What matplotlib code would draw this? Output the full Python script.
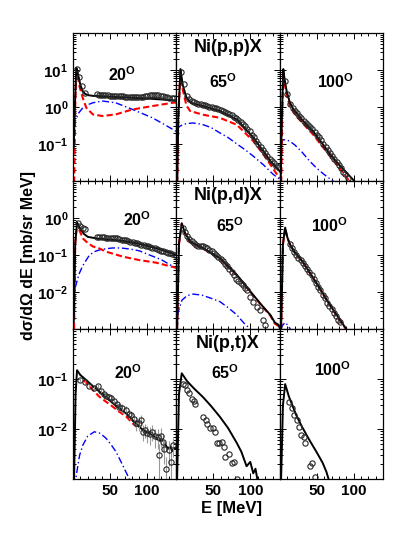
import numpy as np
import matplotlib
matplotlib.use('Agg')
import matplotlib.pyplot as plt
from matplotlib.ticker import LogLocator, FixedLocator, MultipleLocator, FuncFormatter

plt.rcParams['font.family'] = ['Liberation Sans', 'DejaVu Sans']
plt.rcParams['font.weight'] = 'bold'
plt.rcParams['mathtext.fontset'] = 'custom'
plt.rcParams['mathtext.rm'] = 'Liberation Sans:bold'
plt.rcParams['mathtext.bf'] = 'Liberation Sans:bold'
plt.rcParams['mathtext.it'] = 'Liberation Sans:bold:italic'

# ---- Ni(p,p)X ----
pp20_exp_e = [5, 8, 12, 16, 32, 35, 38, 41, 44, 47, 50, 53, 56, 59, 62, 65, 68, 71, 74, 77,
              80, 83, 86, 89, 92, 95, 98, 101, 104, 107, 110, 113, 116, 119, 122, 125, 128, 131, 134, 137]
pp20_exp = [10.4, 6.5, 3.6, 2.4, 2.2, 2.15, 2.1, 2.1, 2.05, 2.05, 2.0, 2.0, 2.0, 1.98, 1.95, 1.95, 1.93, 1.92, 1.9, 1.9,
            1.9, 1.88, 1.88, 1.9, 1.9, 1.92, 1.95, 2.0, 2.05, 2.1, 2.1, 2.08, 2.05, 2.0, 1.95, 1.9, 1.85, 1.8, 1.75, 1.7]
pp20_tot_e = [1, 2.5, 4.5, 6, 8, 10, 13, 16, 20, 27, 40, 60, 80, 100, 120, 140]
pp20_tot = [0.08, 1.0, 11.5, 9, 6, 4, 2.7, 2.3, 2.1, 2.0, 1.95, 1.85, 1.78, 1.7, 1.6, 1.5]
pp20_red_e = [1.5, 3, 4.5, 6, 9, 13.5, 18, 27, 40, 58, 81, 108, 135, 140]
pp20_red = [0.005, 1, 11, 8, 3.5, 1.7, 0.96, 0.63, 0.57, 0.63, 0.86, 1.06, 1.3, 1.32]
pp20_blue_e = [1, 3, 8, 13.5, 20, 27, 40, 58, 81, 108, 125, 140]
pp20_blue = [0.3, 0.42, 0.7, 0.96, 1.15, 1.3, 1.45, 1.3, 0.86, 0.51, 0.33, 0.22]

pp65_exp_e = [7, 11, 15, 18, 21, 24, 27, 30, 33, 36, 39, 42, 45, 48, 51, 54, 57, 60, 63, 66, 69, 72,
              75, 78, 81, 84, 87, 90, 93, 96, 99, 102, 105, 108, 111, 114, 117, 120, 123, 126, 129, 132, 135, 138]
pp65_exp = [9.0, 4.3, 2.0, 1.6, 1.45, 1.35, 1.28, 1.22, 1.18, 1.14, 1.1, 1.06, 1.02, 0.98, 0.95, 0.92, 0.88, 0.84,
            0.8, 0.75, 0.7, 0.65, 0.6, 0.55, 0.5, 0.45, 0.4, 0.35, 0.3, 0.26, 0.22, 0.18, 0.15, 0.12, 0.1, 0.085,
            0.07, 0.058, 0.048, 0.04, 0.034, 0.03, 0.026, 0.024]
pp65_tot_e = [1.5, 3, 6, 9, 14, 20, 36, 59, 82, 104, 127, 138, 140]
pp65_tot = [0.005, 0.5, 10.6, 4, 1.8, 1.3, 1.06, 0.78, 0.46, 0.15, 0.035, 0.02, 0.018]
pp65_red_e = [1.5, 3, 6, 9, 14, 19, 36, 59, 82, 104, 120, 136, 140]
pp65_red = [0.005, 0.4, 10, 3, 1.1, 0.78, 0.62, 0.51, 0.33, 0.12, 0.045, 0.015, 0.012]
pp65_blue_e = [1, 5, 10, 16, 23, 35, 47, 59, 70, 82, 93, 104, 118, 131, 140]
pp65_blue = [0.25, 0.3, 0.34, 0.36, 0.37, 0.34, 0.28, 0.2, 0.15, 0.1, 0.07, 0.047, 0.027, 0.015, 0.011]

pp100_exp_e = [6.5, 10, 14, 17, 20, 23, 26, 29, 32, 35, 38, 41, 44, 47, 50, 53, 56, 59, 62, 65,
               68, 71, 74, 77, 80, 83, 86, 89, 92]
pp100_exp = [5.0, 2.3, 1.2, 0.95, 0.8, 0.68, 0.58, 0.5, 0.42, 0.36, 0.32, 0.28, 0.25, 0.21, 0.18, 0.15,
             0.125, 0.1, 0.085, 0.07, 0.058, 0.048, 0.04, 0.033, 0.027, 0.022, 0.018, 0.015, 0.012]
pp100_tot_e = [1, 2.5, 4.5, 6, 9, 13, 18, 30, 45, 58, 68, 80, 90, 101]
pp100_tot = [0.01, 0.5, 10.6, 6, 2.7, 1.4, 0.88, 0.45, 0.22, 0.1, 0.053, 0.028, 0.017, 0.01]
pp100_red_e = [1.5, 3, 4.5, 7, 10, 14, 20, 30, 45, 60, 75, 90, 98]
pp100_red = [0.005, 0.5, 9, 3.5, 1.8, 1.0, 0.65, 0.38, 0.18, 0.075, 0.032, 0.013, 0.008]
pp100_blue_e = [1, 4, 8, 13, 20, 30, 40, 50, 60, 72, 80]
pp100_blue = [0.1, 0.13, 0.13, 0.12, 0.095, 0.06, 0.035, 0.022, 0.015, 0.01, 0.007]

# ---- Ni(p,d)X ----
pd20_exp_e = [7, 10, 13, 16, 33, 36, 39, 42, 45, 48, 51, 54, 57, 60, 63, 66, 69, 72, 75, 78,
              81, 84, 87, 90, 93, 96, 99, 102, 105, 108, 111, 114, 117, 120, 123, 126, 129, 132, 135, 138]
pd20_exp = [0.72, 0.62, 0.55, 0.5, 0.31, 0.31, 0.3, 0.3, 0.29, 0.29, 0.29, 0.28, 0.28, 0.28, 0.27, 0.26,
            0.25, 0.25, 0.24, 0.23, 0.22, 0.21, 0.21, 0.2, 0.19, 0.185, 0.18, 0.17, 0.165, 0.155, 0.15,
            0.145, 0.14, 0.13, 0.125, 0.12, 0.115, 0.11, 0.105, 0.1]
pd20_tot_e = [1, 3, 5.5, 8, 11, 15, 20, 32, 50, 68, 85, 104, 120, 135, 140]
pd20_tot = [0.0016, 0.2, 0.76, 0.6, 0.47, 0.37, 0.31, 0.28, 0.26, 0.24, 0.21, 0.17, 0.14, 0.11, 0.1]
pd20_red_e = [1.5, 3, 5.5, 9, 13.5, 18, 27, 36, 45, 68, 90, 113, 135, 140]
pd20_red = [0.001, 0.2, 0.72, 0.45, 0.28, 0.23, 0.17, 0.15, 0.123, 0.09, 0.073, 0.062, 0.048, 0.045]
pd20_blue_e = [1, 3, 8, 13, 18, 22.5, 30, 36, 45, 54, 65, 77, 90, 104, 120, 135, 140]
pd20_blue = [0.001, 0.013, 0.03, 0.05, 0.073, 0.1, 0.125, 0.137, 0.148, 0.155, 0.155, 0.145, 0.13,
             0.1, 0.075, 0.05, 0.045]

pd65_exp_e = [9, 12, 15, 18, 21, 24, 27, 30, 33, 36, 39, 42, 45, 48, 51, 54, 57, 60, 63, 66,
              69, 72, 75, 78, 81, 84, 87, 90, 93, 96, 100, 104, 109, 113, 117, 120]
pd65_exp = [0.55, 0.42, 0.33, 0.27, 0.24, 0.21, 0.19, 0.18, 0.175, 0.17, 0.16, 0.15, 0.135, 0.125, 0.11,
            0.1, 0.09, 0.08, 0.07, 0.058, 0.05, 0.042, 0.035, 0.028, 0.023, 0.02, 0.018, 0.015, 0.013,
            0.011, 0.0075, 0.0055, 0.004, 0.0032, 0.0018, 0.0013]
pd65_tot_e = [1.5, 4, 7.7, 12, 19, 36, 59, 82, 104, 115, 127, 133, 138, 140]
pd65_tot = [0.001, 0.2, 0.72, 0.4, 0.23, 0.155, 0.083, 0.029, 0.0083, 0.0045, 0.0024, 0.0015, 0.0013, 0.001]
pd65_red_e = [1.5, 4, 7.7, 12, 19, 36, 59, 82, 104, 115, 127, 133, 138, 140]
pd65_red = [0.001, 0.2, 0.7, 0.38, 0.22, 0.15, 0.08, 0.028, 0.008, 0.0043, 0.0023, 0.0014, 0.0012, 0.001]
pd65_blue_e = [1.5, 3, 8, 15, 23, 35, 47, 59, 70, 82, 92, 100]
pd65_blue = [0.001, 0.0029, 0.006, 0.008, 0.0088, 0.0082, 0.0068, 0.0055, 0.0038, 0.0024, 0.0014, 0.001]

pd100_exp_e = [13, 16, 19, 22, 25, 28, 31, 34, 37, 40, 43, 46, 49, 52, 55, 58, 61, 64, 67, 70, 73, 76, 79, 82]
pd100_exp = [0.2, 0.15, 0.12, 0.1, 0.085, 0.072, 0.062, 0.05, 0.042, 0.034, 0.028, 0.022, 0.018, 0.014,
             0.011, 0.0085, 0.0068, 0.0052, 0.0042, 0.0034, 0.0027, 0.0022, 0.0018, 0.0015]
pd100_tot_e = [1.5, 4, 7, 10, 14, 20, 31, 42, 54, 65, 77, 84, 90]
pd100_tot = [0.001, 0.2, 0.55, 0.3, 0.186, 0.12, 0.066, 0.03, 0.0127, 0.0055, 0.0024, 0.0015, 0.001]
pd100_red_e = [1.5, 4, 7, 10, 14, 20, 31, 42, 54, 65, 77, 84, 90]
pd100_red = [0.001, 0.19, 0.53, 0.29, 0.18, 0.115, 0.064, 0.029, 0.0123, 0.0053, 0.0023, 0.0014, 0.001]
pd100_blue_e = [1, 4, 7, 10, 14]
pd100_blue = [0.001, 0.0013, 0.0015, 0.0013, 0.001]

# ---- Ni(p,t)X ----
pt20_exp_e = [9, 16, 22, 28, 34, 38, 42, 45, 49, 52, 56, 60, 63, 67, 72, 76, 79, 83, 86, 90,
              92, 95, 98, 101, 104, 108, 111, 115, 117, 119, 122, 124, 127, 130, 133, 136]
pt20_exp = [0.095, 0.088, 0.074, 0.065, 0.074, 0.057, 0.05, 0.046, 0.044, 0.041, 0.037, 0.032, 0.028,
            0.026, 0.024, 0.02, 0.019, 0.016, 0.013, 0.013, 0.015, 0.0088, 0.0095, 0.0083, 0.0078,
            0.0088, 0.0072, 0.007, 0.003, 0.0073, 0.0055, 0.004, 0.0016, 0.0038, 0.0022, 0.0047]
pt20_err = [0.008, 0.007, 0.006, 0.006, 0.007, 0.005, 0.005, 0.005, 0.005, 0.005, 0.005, 0.005, 0.005,
            0.005, 0.005, 0.004, 0.004, 0.004, 0.004, 0.004, 0.004, 0.003, 0.003, 0.003, 0.003,
            0.003, 0.003, 0.003, 0.002, 0.003, 0.002, 0.002, 0.0012, 0.002, 0.0015, 0.002]
pt20_tot_e = [1.5, 3.5, 5.5, 10, 18, 27, 36, 45, 54, 63, 72, 81, 90, 99, 108, 114, 118, 122, 126,
              129, 132, 135, 138, 140]
pt20_tot = [0.001, 0.05, 0.15, 0.12, 0.095, 0.072, 0.056, 0.043, 0.033, 0.026, 0.0206, 0.015, 0.011,
            0.0088, 0.0076, 0.0065, 0.0058, 0.006, 0.0048, 0.004, 0.0045, 0.0036, 0.0042, 0.004]
pt20_red_e = [14, 18, 27, 36, 45, 54, 63, 72, 81, 90]
pt20_red = [0.095, 0.085, 0.06, 0.044, 0.035, 0.028, 0.022, 0.018, 0.013, 0.01]
pt20_blue_e = [3, 4.5, 9, 13.5, 20, 29, 37, 45, 52, 58.5, 66, 74, 80]
pt20_blue = [0.0007, 0.0012, 0.003, 0.0048, 0.0072, 0.0088, 0.0082, 0.0065, 0.0048, 0.0035, 0.0021,
             0.0012, 0.0008]

pt65_exp_e = [9, 12, 15, 18, 21.5, 24, 26, 36, 40.5, 41.5, 46, 49.5, 52.5, 55, 58.5, 61.5, 64, 66,
              72, 75, 77.5, 82]
pt65_exp = [0.079, 0.076, 0.06, 0.053, 0.039, 0.037, 0.032, 0.017, 0.015, 0.0126, 0.0103, 0.0103,
            0.0088, 0.0053, 0.0052, 0.0056, 0.0044, 0.0028, 0.0032, 0.0021, 0.0022, 0.001]
pt65_tot_e = [1.5, 4, 7.7, 15, 25, 36, 47, 59, 70, 82, 88, 95, 100, 104, 107, 110]
pt65_tot = [0.001, 0.05, 0.13, 0.09, 0.063, 0.044, 0.029, 0.0176, 0.0105, 0.0052, 0.0035, 0.0018,
            0.0022, 0.0013, 0.0016, 0.0009]

pt100_exp_e = [12.6, 15.8, 19, 22.5, 26, 29, 32, 33.8, 41.4, 43.7, 48]
pt100_exp = [0.035, 0.026, 0.019, 0.015, 0.0108, 0.0076, 0.0069, 0.0052, 0.0018, 0.0021, 0.0011]
pt100_tot_e = [1.5, 4, 7, 12, 22, 30, 40, 50, 58, 63, 66]
pt100_tot = [0.001, 0.03, 0.079, 0.045, 0.019, 0.011, 0.006, 0.0034, 0.0021, 0.0014, 0.001]

angles = ['20', '65', '100']
reactions = ['Ni(p,p)X', 'Ni(p,d)X', 'Ni(p,t)X']
row_ylims = [(0.01, 100), (0.001, 10), (0.001, 1)]
row_labelled = [[0.1, 1, 10], [0.01, 0.1, 1], [0.01, 0.1]]

panels = [
    [dict(exp=(pp20_exp_e, pp20_exp), tot=(pp20_tot_e, pp20_tot), red=(pp20_red_e, pp20_red),
          blue=(pp20_blue_e, pp20_blue), pos=(0.48, 0.72)),
     dict(exp=(pp65_exp_e, pp65_exp), tot=(pp65_tot_e, pp65_tot), red=(pp65_red_e, pp65_red),
          blue=(pp65_blue_e, pp65_blue), pos=(0.45, 0.67)),
     dict(exp=(pp100_exp_e, pp100_exp), tot=(pp100_tot_e, pp100_tot), red=(pp100_red_e, pp100_red),
          blue=(pp100_blue_e, pp100_blue), pos=(0.54, 0.67))],
    [dict(exp=(pd20_exp_e, pd20_exp), tot=(pd20_tot_e, pd20_tot), red=(pd20_red_e, pd20_red),
          blue=(pd20_blue_e, pd20_blue), pos=(0.62, 0.74)),
     dict(exp=(pd65_exp_e, pd65_exp), tot=(pd65_tot_e, pd65_tot), red=(pd65_red_e, pd65_red),
          blue=(pd65_blue_e, pd65_blue), pos=(0.52, 0.70)),
     dict(exp=(pd100_exp_e, pd100_exp), tot=(pd100_tot_e, pd100_tot), red=(pd100_red_e, pd100_red),
          blue=(pd100_blue_e, pd100_blue), pos=(0.48, 0.70))],
    [dict(exp=(pt20_exp_e, pt20_exp), err=pt20_err, tot=(pt20_tot_e, pt20_tot), red=(pt20_red_e, pt20_red),
          blue=(pt20_blue_e, pt20_blue), pos=(0.53, 0.71)),
     dict(exp=(pt65_exp_e, pt65_exp), tot=(pt65_tot_e, pt65_tot), pos=(0.47, 0.71)),
     dict(exp=(pt100_exp_e, pt100_exp), tot=(pt100_tot_e, pt100_tot), pos=(0.51, 0.73))],
]

W, H = 415, 537
fig = plt.figure(figsize=(W / 100, H / 100), dpi=100)

col_left = [73, 176, 280]
col_w = [103, 104, 103]
row_top = [33, 181, 329]
row_h = [148, 148, 150]


def make_fmt(vals):
    def f(v, pos):
        for t in vals:
            if np.isclose(v, t):
                return r'$10^{%d}$' % int(round(np.log10(v)))
        return ''
    return f


for r in range(3):
    for c in range(3):
        p = panels[r][c]
        ax = fig.add_axes([col_left[c] / W, 1 - (row_top[r] + row_h[r]) / H, col_w[c] / W, row_h[r] / H])
        ax.set_yscale('log')
        ax.set_xlim(0, 140)
        ax.set_ylim(*row_ylims[r])

        if 'blue' in p:
            ax.plot(*p['blue'], color='blue', ls='-.', lw=1.0, dashes=(5, 2, 1, 2))
        if 'red' in p:
            ax.plot(*p['red'], color='red', ls='--', lw=1.5, dashes=(3, 1.5))
        ax.plot(*p['tot'], color='black', lw=1.4)
        if 'err' in p:
            ax.errorbar(*p['exp'], yerr=p['err'], fmt='none', ecolor='0.6', elinewidth=0.8)
        ax.plot(*p['exp'], ls='none', marker='o', ms=3.8, mfc='none', mec='0.15', mew=0.8)

        ax.text(p['pos'][0], p['pos'][1], angles[c] + r'$^{\mathrm{O}}$', transform=ax.transAxes,
                ha='center', va='center', fontsize=11.5, fontweight='bold')
        if c == 1:
            ax.text(0.5, 0.9, reactions[r], transform=ax.transAxes, ha='center', va='center',
                    fontsize=13, fontweight='bold')

        ax.xaxis.set_major_locator(FixedLocator([50, 100]))
        ax.xaxis.set_minor_locator(MultipleLocator(10))
        ax.yaxis.set_major_locator(LogLocator(base=10))
        ax.yaxis.set_minor_locator(LogLocator(base=10, subs=np.arange(2, 10)))
        ax.yaxis.set_major_formatter(FuncFormatter(make_fmt(row_labelled[r])))
        ax.yaxis.set_minor_formatter(FuncFormatter(lambda v, pos: ''))
        ax.tick_params(which='both', direction='in', top=True, right=True, width=0.7, labelsize=11)
        ax.tick_params(which='major', length=4)
        ax.tick_params(which='minor', length=2)
        if c != 0:
            ax.tick_params(labelleft=False)
        if r != 2:
            ax.tick_params(labelbottom=False)
        for s in ax.spines.values():
            s.set_linewidth(0.9)

fig.text(28 / W, 1 - 255 / H, 'dσ/dΩ dE [mb/sr MeV]', rotation=90, ha='center', va='center',
         fontsize=11.5, fontweight='bold')
fig.text(231 / W, 1 - 509 / H, 'E [MeV]', ha='center', va='center', fontsize=12, fontweight='bold')

fig.savefig('out.png', dpi=100)
